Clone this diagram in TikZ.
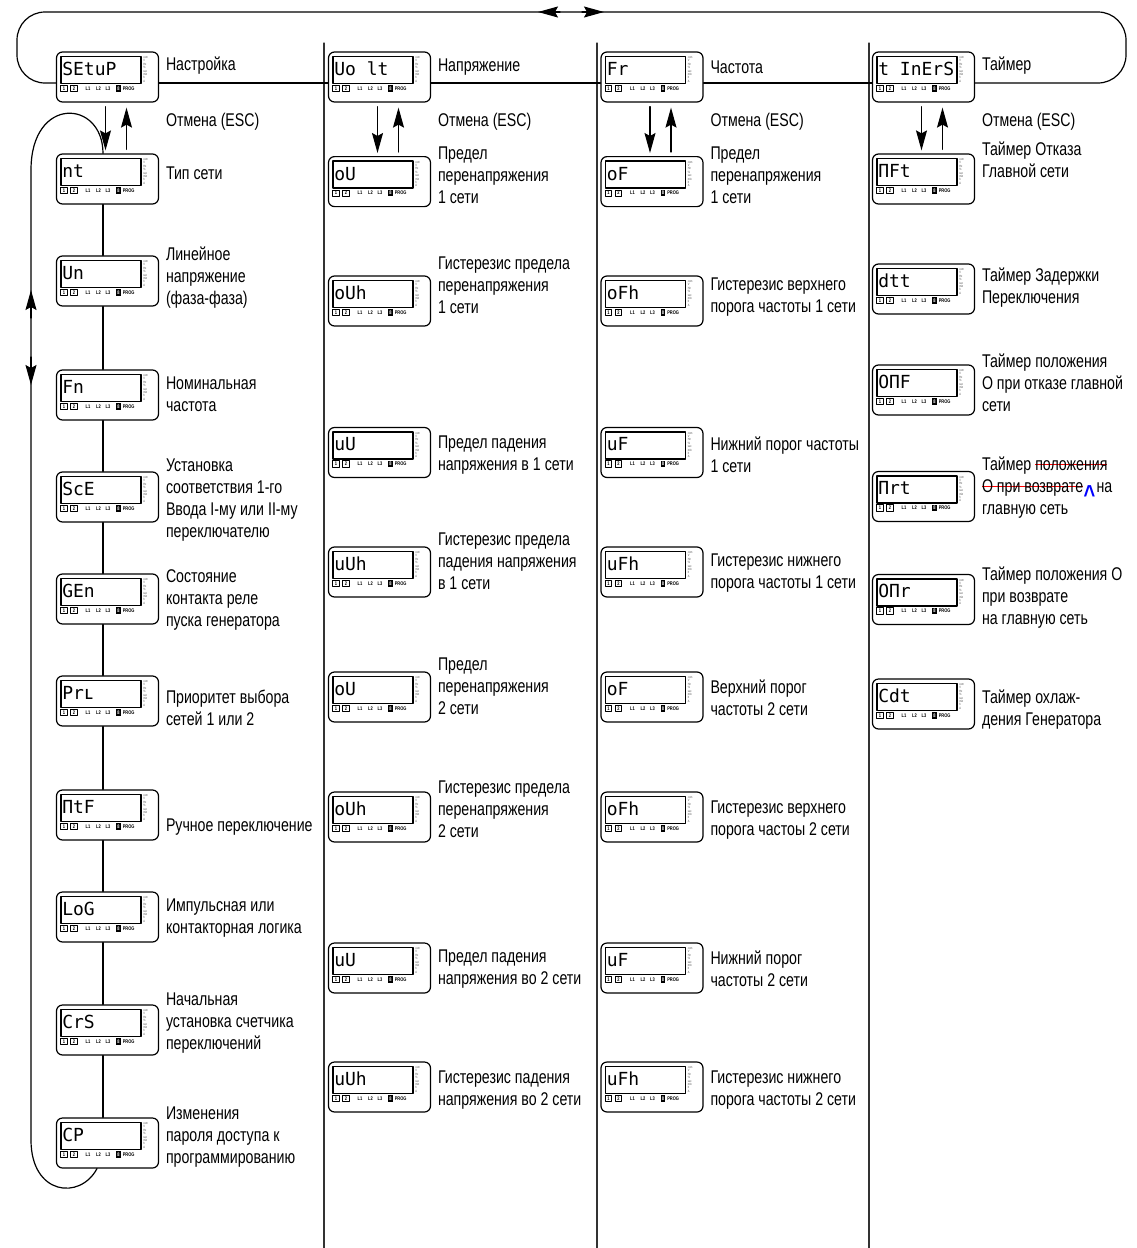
\documentclass[tikz,border=0pt]{standalone}
\usepackage{fontspec}
\setmainfont{Liberation Sans}[FakeStretch=0.77]
\newfontfamily\lcdfont{DejaVu Sans Mono}
\usetikzlibrary{arrows.meta}

\newsavebox\strikebox
\newcommand\redstrike[1]{\sbox\strikebox{#1}\rlap{\textcolor{red}{\rule[0.3em]{\wd\strikebox}{0.7pt}}}\usebox\strikebox}

\newcommand\lcdpanel[4]{%
	\node[panelbox] (#1) at (#2,#3) {};
	\draw[line width=0.6pt] ([shift={(5,5)}]#1.north west) rectangle ([shift={(85,32)}]#1.north west);
	\node[lcd] (#1-txt) at ([shift={(6,24)}]#1.north west) {#4};
	\node[legend] (#1-leg) at ([shift={(87,5)}]#1.north west) {com\\V\\Hz\\\%\\sec\\min\\h\\A};
	\node[key] (#1-k1) at ([shift={(8,37)}]#1.north west) {1};
	\node[key] (#1-k2) at ([shift={(18,37)}]#1.north west) {2};
	\foreach \i/\xx in {1/32,2/42.5,3/52}
	\node[mini] (#1-l\i) at ([shift={(\xx,37)}]#1.north west) {L\i};
	\node[keyfill] (#1-k8) at ([shift={(62.5,37)}]#1.north west) {8};
	\node[mini,anchor=west] (#1-prog) at ([shift={(66.5,37)}]#1.north west) {PROG};
}

\begin{document}
\begin{tikzpicture}[x=0.5pt,y=-0.5pt,line join=round,line cap=round,
	>={Stealth[length=10pt,width=5.5pt,inset=1.5pt]},
	panelbox/.style={draw,fill=white,rounded corners=3pt,line width=0.6pt,minimum width=51pt,minimum height=25pt,inner sep=0pt},
	lcd/.style={anchor=base west,inner sep=0pt,font=\lcdfont\fontsize{9}{9}\selectfont},
	legend/.style={anchor=north west,align=left,inner sep=0pt,text=black!70,font=\fontsize{1.6}{1.7}\selectfont},
	key/.style={draw,line width=0.3pt,minimum width=3.2pt,minimum height=3.2pt,inner sep=0pt,font=\fontsize{2.6}{2.6}\selectfont\bfseries},
	keyfill/.style={fill=black,text=white,minimum width=2.4pt,minimum height=3.2pt,inner sep=0pt,font=\fontsize{2.6}{2.6}\selectfont\bfseries},
	mini/.style={inner sep=0pt,font=\fontsize{2.6}{2.6}\selectfont\bfseries},
	lbl/.style={anchor=west,align=left,inner sep=0pt,xshift=3.25pt,font=\fontsize{9.2}{11}\selectfont},
	line/.style={line width=0.6pt},
	arr/.style={->,line width=0.6pt}]
	\useasboundingbox (0,0) rectangle (1136,1248);
	\coordinate (rail) at (0,83);
	\foreach \x in {324,597,869}
	\draw[line width=0.6pt,black!80] (\x,43) -- (\x,1248);
	\foreach \nm/\yy/\txt/\ly/\lab in {
		setup/77/SEtuP/66/Настройка,
		nt/179/nt/173/Тип сети,
		un/281/Un/278/{Линейное\\напряжение\\(фаза-фаза)},
		fn/395/Fn/394/{Номинальная\\частота},
		sce/497/ScE/500/{Установка\\соответствия 1-го\\Ввода I-му или II-му\\переключателю},
		gen/599/GEn/600/{Состояние\\контакта реле\\пуска генератора},
		prl/701/Prʟ/708/{Приоритет выбора\\сетей 1 или 2},
		mtf/815/ПtF/827/Ручное переключение,
		log/917/LoG/918/{Импульсная или\\контакторная логика},
		crs/1030/CrS/1023/{Начальная\\установка счетчика\\переключений},
		cp/1143/CP/1137/{Изменения\\пароля доступа к\\программированию}}
	{
		\lcdpanel{\nm}{107.5}{\yy}{\txt}
		\node[lbl] (\nm-lab) at (\nm.east |- 0,\ly) {\lab};
	}
	\foreach \nm/\yy/\txt/\ly/\lab in {
		volt/77/{Uo lt}/67/Напряжение,
		ou1/181.6/oU/175/{Предел\\перенапряжения\\1 сети},
		ouh1/301/oUh/285/{Гистерезис предела\\перенапряжения\\1 сети},
		uu1/452.5/uU/455/{Предел падения\\напряжения в 1 сети},
		uuh1/572/uUh/561.6/{Гистерезис предела\\падения напряжения\\в 1 сети},
		ou2/697/oU/686/{Предел\\перенапряжения\\2 сети},
		ouh2/817/oUh/809/{Гистерезис предела\\перенапряжения\\2 сети},
		uu2/968/uU/969/{Предел падения\\напряжения во 2 сети},
		uuh2/1087/uUh/1090/{Гистерезис падения\\напряжения во 2 сети}}
	{
		\lcdpanel{\nm}{379.5}{\yy}{\txt}
		\node[lbl] (\nm-lab) at (\nm.east |- 0,\ly) {\lab};
	}
	\foreach \nm/\yy/\txt/\ly/\lab in {
		freq/77/Fr/67/Частота,
		of1/181.6/oF/175/{Предел\\перенапряжения\\1 сети},
		ofh1/301/oFh/297/{Гистерезис верхнего\\порога частоты 1 сети},
		uf1/452.5/uF/455/{Нижний порог частоты\\1 сети},
		ufh1/572/uFh/572.6/{Гистерезис нижнего\\порога частоты 1 сети},
		of2/697/oF/697.6/{Верхний порог\\частоты 2 сети},
		ofh2/817/oFh/820/{Гистерезис верхнего\\порога частоы 2 сети},
		uf2/968/uF/969/{Нижний порог\\частоты 2 сети},
		ufh2/1087/uFh/1090/{Гистерезис нижнего\\порога частоты 2 сети}}
	{
		\lcdpanel{\nm}{652}{\yy}{\txt}
		\node[lbl] (\nm-lab) at (\nm.east |- 0,\ly) {\lab};
	}
	\foreach \nm/\yy/\txt/\ly/\lab in {
		timers/77/{t InErS}/66/Таймер,
		mft/179/ПFt/160/{Таймер Отказа\\Главной сети},
		dtt/289/dtt/288/{Таймер Задержки\\Переключения},
		omf/390/OПF/383/{Таймер положения\\О при отказе главной\\сети},
		omr/599.5/OПr/598/{Таймер положения О\\при возврате\\на главную сеть},
		cdt/704/Cdt/710/{Таймер охлаж-\\дения Генератора}}
	{
		\lcdpanel{\nm}{923.5}{\yy}{\txt}
		\node[lbl] (\nm-lab) at (\nm.east |- 0,\ly) {\lab};
	}
	\lcdpanel{mrt}{923.5}{496.5}{Пrt}
	\node[lbl] (mrt-lab) at (mrt.east |- 0,488) {Таймер \redstrike{положения}\\\redstrike{О при возврате}\kern0.3pt\textcolor{blue}{\raisebox{-1.05ex}{\fontsize{13}{13}\selectfont\bfseries\char`\^}}\kern0.6pt на\\главную сеть};
	\foreach \nm in {setup,volt,freq,timers}
	\node[lbl] (\nm-esc) at (\nm.east |- 0,122) {Отмена (ESC)};
	\foreach \a/\b in {setup/nt,volt/ou1,freq/of1,timers/mft}{
		\draw[arr] ([xshift=-1pt,yshift=-2pt]\a.south) -- ([xshift=-1pt,yshift=1.5pt]\b.north);
		\draw[arr] ([xshift=9.5pt,yshift=2pt]\b.north) -- ([xshift=9.5pt,yshift=-2.5pt]\a.south);
	}
	\foreach \a/\b in {nt/un,un/fn,fn/sce,sce/gen,gen/prl,prl/mtf,mtf/log,log/crs,crs/cp}
	\draw[line] ([xshift=-2.25pt]\a.south) -- ([xshift=-2.25pt]\b.north);
	\draw[line] (setup.east |- rail) -- (volt.west |- rail);
	\draw[line] (volt.east |- rail) -- (freq.west |- rail);
	\draw[line] (freq.east |- rail) -- (timers.west |- rail);
	\draw[line,rounded corners=14pt] (setup.west |- rail) -- (17,83) -- (17,12) -- (1126,12) -- (1126,83) -- (timers.east |- rail);
	\draw[arr] (560,12) -- (538,12);
	\draw[arr] (582,12) -- (604,12);
	\draw[line] ([xshift=-2.25pt]nt.north) .. controls +(0,-54) and +(0,-75) .. (31,170) -- (31,1140) .. controls +(0,55) and +(-17,32) .. ([xshift=-5.25pt]cp.south);
	\draw[arr] (31,318) -- (31,290);
	\draw[arr] (31,357) -- (31,385);
\end{tikzpicture}
\end{document}
